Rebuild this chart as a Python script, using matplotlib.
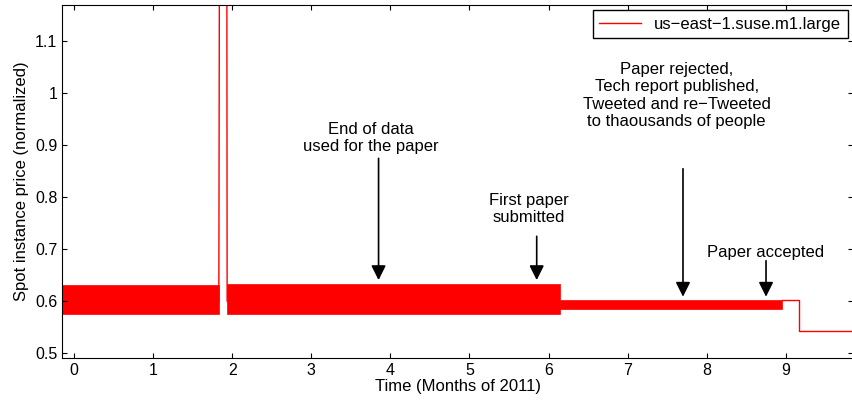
import matplotlib
matplotlib.use('Agg')
import matplotlib.pyplot as plt

plt.rcParams['font.family'] = ['Liberation Sans', 'DejaVu Sans']
plt.rcParams['font.size'] = 11

# noisy price bands: start, end, low, high
band_start = [-0.15, 1.93, 6.15]
band_end = [1.83, 6.15, 8.95]
band_low = [0.575, 0.575, 0.584]
band_high = [0.630, 0.632, 0.603]

# plain price steps
step_x = [1.83, 1.84, 1.93, 1.935, 8.95, 9.17, 9.17, 9.9]
step_y = [0.60, 1.5, 1.5, 0.60, 0.603, 0.603, 0.543, 0.543]

notes = ["End of data\nused for the paper", "First paper\nsubmitted",
         "Paper rejected,\nTech report published,\nTweeted and re\u2212Tweeted\nto thaousands of people",
         "Paper accepted"]
note_x = [3.85, 5.85, 7.7, 8.75]
note_text_y = [0.945, 0.808, 1.06, 0.708]
note_tail_y = [0.88, 0.73, 0.86, 0.683]
note_tip_y = [0.635, 0.635, 0.603, 0.603]
note_text_x = [3.75, 5.75, 7.62, 8.75]

fig = plt.figure(figsize=(8.53, 4.08), dpi=100)
ax = fig.add_axes([0.073, 0.122, 0.927, 0.866])

for s, e, lo, hi in zip(band_start, band_end, band_low, band_high):
    ax.fill_between([s, e], [lo, lo], [hi, hi], color='red', lw=0.5)
ax.plot(step_x[:4], step_y[:4], color='red', lw=1)
ax.plot(step_x[4:], step_y[4:], color='red', lw=1, label='us\u2212east\u22121.suse.m1.large')

for t, x, ty, tail, tip, tx in zip(notes, note_x, note_text_y, note_tail_y, note_tip_y, note_text_x):
    ax.text(tx, ty, t, ha='center', va='top', fontsize=12, linespacing=1.2)
    ax.annotate('', xy=(x, tip), xytext=(x, tail),
                arrowprops=dict(arrowstyle='-|>', color='black', lw=1.2, mutation_scale=22))

ax.set_xlim(-0.15, 9.85)
ax.set_ylim(0.49, 1.17)
ax.set_xticks(range(10))
ax.set_yticks([0.5, 0.6, 0.7, 0.8, 0.9, 1, 1.1])
ax.set_yticklabels(['0.5', '0.6', '0.7', '0.8', '0.9', '1', '1.1'])
ax.tick_params(direction='in', top=True, right=True, labelsize=11.5)
ax.set_xlabel('Time (Months of 2011)', labelpad=1, fontsize=12)
ax.set_ylabel('Spot instance price (normalized)', fontsize=12)
ax.legend(loc='upper right', fancybox=False, edgecolor='black', handlelength=2.5,
          borderaxespad=0.3, framealpha=1, fontsize=12)

fig.savefig('out.png')
